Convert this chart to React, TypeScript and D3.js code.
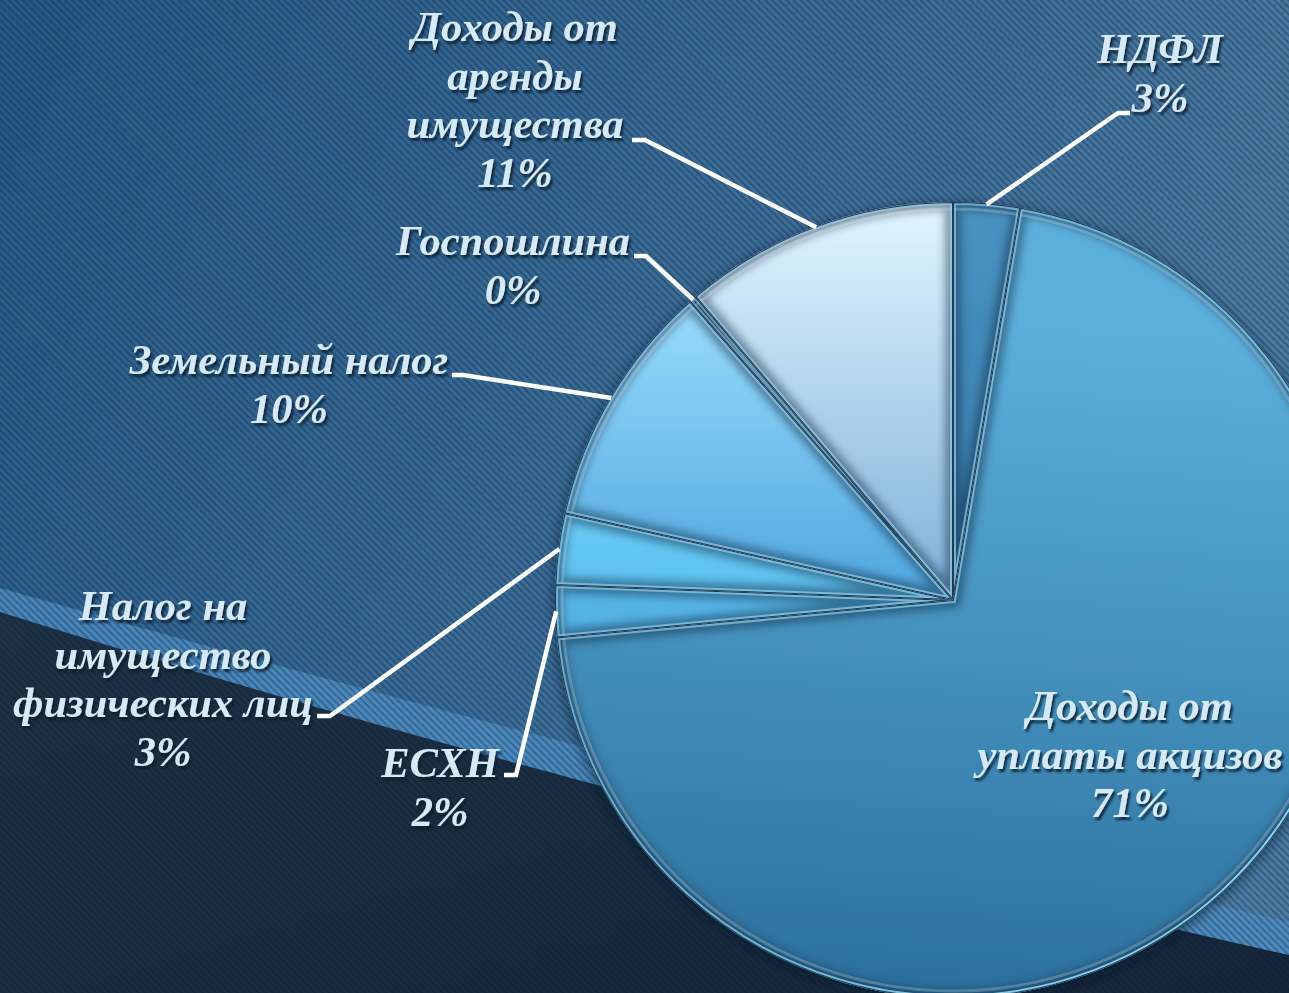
import React from "react";
import * as d3 from "d3";

const categories = [
  "НДФЛ",
  "Доходы от уплаты акцизов",
  "ЕСХН",
  "Налог на имущество физических лиц",
  "Земельный налог",
  "Госпошлина",
  "Доходы от аренды имущества",
];
const values = [2.7, 70.8, 2.1, 2.9, 10.0, 0.3, 11.2];
const percentLabels = ["3%", "71%", "2%", "3%", "10%", "0%", "11%"];
const labelLines = [
  ["НДФЛ"],
  ["Доходы от", "уплаты акцизов"],
  ["ЕСХН"],
  ["Налог на", "имущество", "физических лиц"],
  ["Земельный налог"],
  ["Госпошлина"],
  ["Доходы от", "аренды", "имущества"],
];

// layout (label anchor: center x, first line baseline y; leader elbow point)
const labelPos = [
  { x: 1160, y: 63, elbow: [1118, 113], end: [1130, 113] },
  { x: 1130, y: 720, elbow: null, end: null },
  { x: 440, y: 777, elbow: [516, 775], end: [504, 775] },
  { x: 163, y: 620, elbow: [330, 716], end: [317, 716] },
  { x: 289, y: 374, elbow: [463, 375], end: [452, 375] },
  { x: 513, y: 255, elbow: [646, 256], end: [634, 256] },
  { x: 515, y: 41, elbow: [645, 140], end: [632, 140] },
];

// gradient stops: [top colour, bottom colour, gradient start y offset]
const sliceFill = [
  ["#4892c0", "#3378a6", -378],
  ["#5cb0dc", "#2b6f9c", -278],
  ["#60c0ee", "#52b0e2", -100],
  ["#6ccef8", "#55b8e8", -100],
  ["#9adcfd", "#4fa6de", -300],
  ["#36617e", "#2a4d66", -378],
  ["#dcf2fe", "#7eb0d8", -378],
];

const W = 1289;
const H = 993;
const CX = 953;
const CY = 600;
const R = 398;

export default function App() {
  const pie = d3
    .pie<number>()
    .sort(null)
    .value((d) => d)
    .startAngle(0)
    .endAngle(2 * Math.PI);
  const arcs = pie(values);
  const arc = d3.arc<d3.PieArcDatum<number>>().innerRadius(0).outerRadius(R);
  const arcInner = d3
    .arc<d3.PieArcDatum<number>>()
    .innerRadius(0)
    .outerRadius(R - 7);

  const fontFamily = "'Liberation Serif', 'Times New Roman', serif";
  const lh = 48.5;

  return (
    <svg
      width={W}
      height={H}
      style={{ position: "absolute", left: 0, top: 0, display: "block" }}
    >
      <defs>
        <linearGradient id="bgTop" x1="0" y1="0" x2="1" y2="0.4">
          <stop offset="0" stopColor="#265a86" />
          <stop offset="0.5" stopColor="#386b96" />
          <stop offset="1" stopColor="#4c7ca4" />
        </linearGradient>
        <linearGradient id="bgDark" x1="0" y1="0" x2="1" y2="1">
          <stop offset="0" stopColor="#1e3246" />
          <stop offset="1" stopColor="#15263a" />
        </linearGradient>
        <linearGradient id="rim" gradientUnits="userSpaceOnUse" x1={-R} y1={-R} x2={R} y2={R}>
          <stop offset="0" stopColor="rgba(160,215,245,0.5)" />
          <stop offset="0.6" stopColor="rgba(150,220,250,0.7)" />
          <stop offset="1" stopColor="rgba(160,230,255,0.95)" />
        </linearGradient>
        <pattern
          id="hatch"
          width="5"
          height="5"
          patternUnits="userSpaceOnUse"
          patternTransform="rotate(-45)"
        >
          <rect x="0" y="0" width="2" height="5" fill="rgba(10,25,45,0.3)" />
        </pattern>
        <filter id="pieShadow" x="-20%" y="-20%" width="140%" height="140%">
          <feGaussianBlur in="SourceAlpha" stdDeviation="6" />
          <feOffset dx="0" dy="3" result="b" />
          <feFlood floodColor="#0a1a2a" floodOpacity="0.7" />
          <feComposite in2="b" operator="in" />
          <feMerge>
            <feMergeNode />
            <feMergeNode in="SourceGraphic" />
          </feMerge>
        </filter>
        <filter id="textShadow" x="-10%" y="-30%" width="120%" height="160%">
          <feGaussianBlur in="SourceAlpha" stdDeviation="1.2" />
          <feOffset dx="2" dy="2.5" result="o" />
          <feFlood floodColor="#0b1c2c" floodOpacity="0.85" />
          <feComposite in2="o" operator="in" />
          <feMerge>
            <feMergeNode />
            <feMergeNode in="SourceGraphic" />
          </feMerge>
        </filter>
        {sliceFill.map((c, i) => (
          <linearGradient
            key={i}
            id={`sg${i}`}
            gradientUnits="userSpaceOnUse"
            x1={0}
            y1={c[2] as number}
            x2={i === 1 ? -40 : 0}
            y2={i === 1 ? R : i === 2 || i === 3 ? 40 : 0}
          >
            <stop offset="0" stopColor={c[0] as string} />
            <stop offset="1" stopColor={c[1] as string} />
          </linearGradient>
        ))}
        {arcs.map((a, i) => (
          <clipPath key={i} id={`clip${i}`}>
            <path d={arc(a) || ""} transform={`translate(${CX},${CY})`} />
          </clipPath>
        ))}
      </defs>

      {/* background */}
      <rect x={0} y={0} width={W} height={H} fill="url(#bgTop)" />
      <path
        d={`M0,588 Q640,770 ${W},922 L${W},${H} L0,${H} Z`}
        fill="#4f90c6"
        opacity={0.8}
      />
      <path
        d={`M0,612 Q600,800 ${W},955 L${W},${H} L0,${H} Z`}
        fill="url(#bgDark)"
      />
      <rect x={0} y={0} width={W} height={H} fill="url(#hatch)" />

      {/* pie */}
      <g filter="url(#pieShadow)">
        <g transform={`translate(${CX},${CY})`}>
          {arcs.map((a, i) => (
            <path key={i} d={arc(a) || ""} fill={`url(#sg${i})`} />
          ))}
        </g>
      </g>
      {arcs.map((a, i) => (
        <g key={i} clipPath={`url(#clip${i})`}>
          <g transform={`translate(${CX},${CY})`}>
            <path
              d={arc(a) || ""}
              fill="none"
              stroke="rgba(10,35,60,0.45)"
              strokeWidth={16}
              style={{ filter: "blur(4px)" }}
            />
            <path
              d={arcInner(a) || ""}
              fill="none"
              stroke="rgba(255,255,255,0.22)"
              strokeWidth={3}
            />
            <path
              d={arc(a) || ""}
              fill="none"
              stroke="url(#rim)"
              strokeWidth={6}
            />
            <path
              d={arc(a) || ""}
              fill="none"
              stroke="rgba(20,45,70,0.9)"
              strokeWidth={2}
            />
          </g>
        </g>
      ))}

      {/* leader lines */}
      {arcs.map((a, i) => {
        const lp = labelPos[i];
        if (!lp.elbow || !lp.end) return null;
        const mid = (a.startAngle + a.endAngle) / 2;
        const sx = CX + Math.sin(mid) * (R - 1);
        const sy = CY - Math.cos(mid) * (R - 1);
        return (
          <polyline
            key={i}
            points={`${sx},${sy} ${lp.elbow[0]},${lp.elbow[1]} ${lp.end[0]},${lp.end[1]}`}
            fill="none"
            stroke="#ffffff"
            strokeWidth={4.5}
          />
        );
      })}

      {/* labels */}
      {categories.map((c, i) => {
        const lp = labelPos[i];
        const lines = [...labelLines[i], percentLabels[i]];
        return (
          <text
            key={c}
            x={lp.x}
            y={lp.y}
            textAnchor="middle"
            fontFamily={fontFamily}
            fontStyle="italic"
            fontWeight="bold"
            fontSize={42.5}
            fill="#d6e9f6"
            filter="url(#textShadow)"
          >
            {lines.map((l, j) => (
              <tspan key={j} x={lp.x} dy={j === 0 ? 0 : lh}>
                {l}
              </tspan>
            ))}
          </text>
        );
      })}
    </svg>
  );
}
